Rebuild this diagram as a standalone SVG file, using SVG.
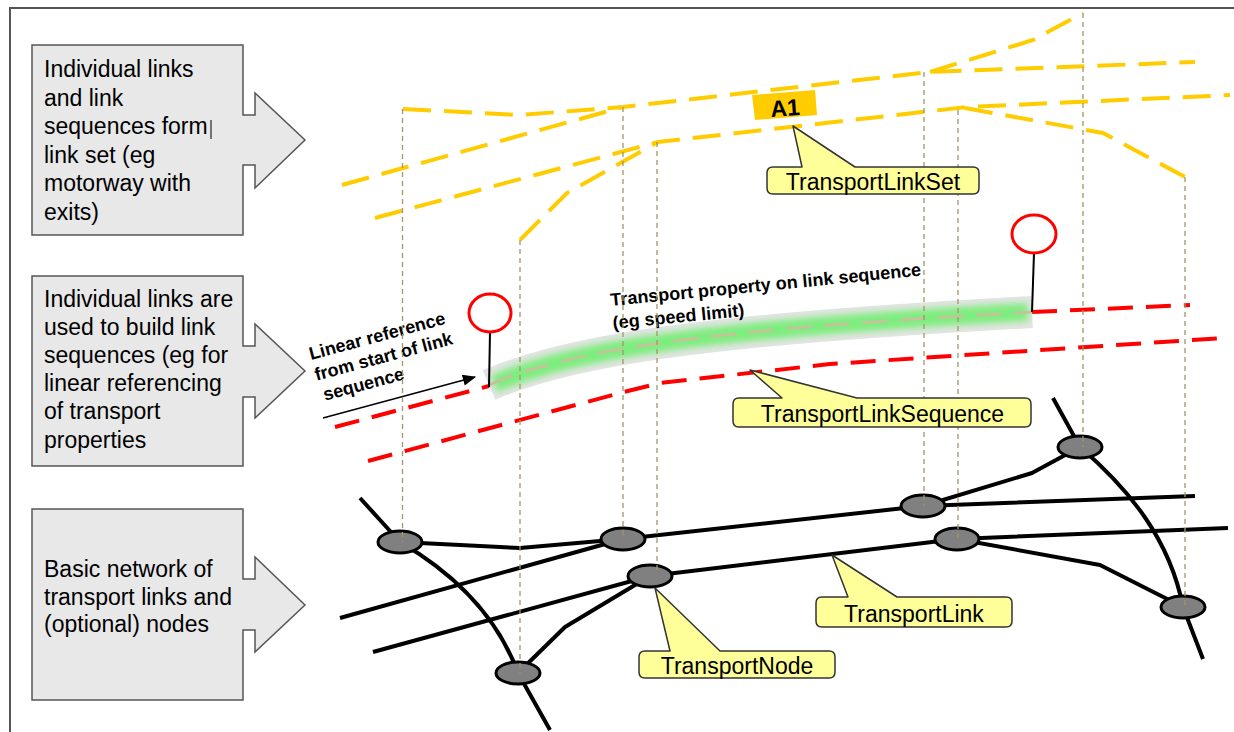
<svg xmlns="http://www.w3.org/2000/svg" width="1234" height="732" viewBox="0 0 1234 732">
<defs>
<style>
.box{fill:#e8e8e8;stroke:#555;stroke-width:1.5}
.bt{font-family:"Liberation Sans",Arial,sans-serif;font-size:23px;fill:#000}
.yl{fill:none;stroke:#FFCC00;stroke-width:4;stroke-dasharray:28 13}
.rl{fill:none;stroke:#FF0000;stroke-width:4;stroke-dasharray:25 13}
.dot{fill:none;stroke:#a39668;stroke-width:1.3;stroke-dasharray:5 4}
.net{fill:none;stroke:#000;stroke-width:4;stroke-linejoin:round}
.node{fill:#808080;stroke:#000;stroke-width:3}
.call{fill:#FFFF99;stroke:#333;stroke-width:1.5;stroke-linejoin:round}
.ct{font-family:"Liberation Sans",Arial,sans-serif;font-size:23px;fill:#000;text-anchor:middle}
.it{font-family:"Liberation Sans",Arial,sans-serif;font-size:18px;font-weight:bold;fill:#000}
.pin{fill:#fff;stroke:#FF0000;stroke-width:3}
</style>
<marker id="ah2" viewBox="0 0 12 10" refX="11" refY="5" markerWidth="14" markerHeight="11" markerUnits="userSpaceOnUse" orient="auto">
<path d="M0,0 L12,5 L0,10 Z" fill="#000"/>
</marker>
<filter id="blur" x="-5%" y="-50%" width="110%" height="200%"><feGaussianBlur stdDeviation="3.5"/></filter>
</defs>
<rect width="1234" height="732" fill="#fff"/>
<path d="M10,732 V8 H1234" fill="none" stroke="#555" stroke-width="2"/>

<g id="box-linkset">
<path class="box" d="M32,45 H243 V115 H255 V93 L305,140 L255,188 V165 H243 V235 H32 Z"/>
<text class="bt" x="44" y="77">Individual links</text>
<text class="bt" x="44" y="105.5">and link</text>
<text class="bt" x="44" y="134">sequences form</text>
<text class="bt" x="44" y="162.5">link set (eg</text>
<text class="bt" x="44" y="191">motorway with</text>
<text class="bt" x="44" y="219.5">exits)</text>
<line x1="211" y1="120" x2="211" y2="139" stroke="#000" stroke-width="1"/>
</g>
<g id="box-linksequence">
<path class="box" d="M32,276 H243 V346 H255 V324 L305,371 L255,418 V397 H243 V466 H32 Z"/>
<text class="bt" x="44" y="306.5">Individual links are</text>
<text class="bt" x="44" y="334.7">used to build link</text>
<text class="bt" x="44" y="362.9">sequences (eg for</text>
<text class="bt" x="44" y="391.1">linear referencing</text>
<text class="bt" x="44" y="419.3">of transport</text>
<text class="bt" x="44" y="447.5">properties</text>
</g>
<g id="box-network">
<path class="box" d="M32,509 H243 V579 H255 V557 L305,605 L255,652 V630 H243 V700 H32 Z"/>
<text class="bt" x="44" y="577">Basic network of</text>
<text class="bt" x="44" y="604.5">transport links and</text>
<text class="bt" x="44" y="632">(optional) nodes</text>
</g>

<g id="linkset-lines">
<path class="yl" d="M403,109 L520,115 L623,107 L780,89 L930,72 L1195,62"/>
<path class="yl" d="M342,185 L623,107"/>
<path class="yl" d="M930,72 L1033,40 L1083,13"/>
<path class="yl" d="M375,218 L658,142 L967,107 L1230,95"/>
<path class="yl" d="M965,108 L1103,133 L1185,177"/>
<path class="yl" d="M520,240 L567,193 L658,142"/>
</g>
<g id="a1-label">
<polygon points="752,95 815,90 817,115 755,120" fill="#FFCC00"/>
<text x="785" y="116" transform="rotate(-4 785 108)" font-family="Liberation Sans, Arial, sans-serif" font-size="23" font-weight="bold" text-anchor="middle">A1</text>
</g>

<g id="linksequence-lines">
<path class="rl" d="M335,427 L489,386"/>
<path class="rl" d="M1032,312 L1190,305"/>
<path class="rl" d="M368,461 L620,393 L660,383 L830,364 L1223,338"/>
</g>
<g id="property-band">
<path d="M489,385 C570,350 700,330 1032,312" fill="none" stroke="#e4e4e4" stroke-width="32"/>
<path d="M494,384 C570,350 700,330 1028,312" fill="none" stroke="#7ded7d" stroke-width="18" filter="url(#blur)"/>
<path d="M489,385 C570,350 700,330 1032,312" fill="none" stroke="#c4c49a" stroke-width="3" stroke-dasharray="25 13"/>
</g>
<g id="pins">
<line x1="490" y1="332" x2="489" y2="387" stroke="#000" stroke-width="2"/>
<ellipse class="pin" cx="490" cy="313" rx="21" ry="19"/>
<line x1="1034" y1="253" x2="1032" y2="312" stroke="#000" stroke-width="2"/>
<ellipse class="pin" cx="1034" cy="234" rx="22" ry="19"/>
</g>
<g id="linear-ref">
<line x1="323" y1="418" x2="475" y2="377" stroke="#000" stroke-width="1.5" marker-end="url(#ah2)"/>
<text class="it" transform="translate(311 360) rotate(-15)"><tspan x="0" y="0">Linear reference</tspan><tspan x="0" y="21.5">from start of link</tspan><tspan x="3" y="43">sequence</tspan></text>
<text class="it" transform="translate(611 306) rotate(-5.6)"><tspan x="0" y="0">Transport property on link sequence</tspan><tspan x="0" y="23">(eg speed limit)</tspan></text>
</g>

<g id="network-links">
<path class="net" d="M360,498 L400,542 C448,570 495,610 518,673 L550,730"/>
<path class="net" d="M400,542 L520,548 L623,539"/>
<path class="net" d="M623,539 L923,506 L1195,496"/>
<path class="net" d="M340,618 L623,539"/>
<path class="net" d="M373,652 L650,576 L957,539 L1228,528"/>
<path class="net" d="M518,673 L565,627 L650,576"/>
<path class="net" d="M923,506 L1032,473 L1080,447"/>
<path class="net" d="M1053,398 L1080,447 C1130,490 1170,540 1183,607 L1203,659"/>
<path class="net" d="M957,539 L1100,565 L1183,607"/>
</g>
<g id="node-1"><ellipse class="node" cx="400" cy="542" rx="22" ry="11"/></g>
<g id="node-2"><ellipse class="node" cx="623" cy="539" rx="22" ry="11"/></g>
<g id="node-3"><ellipse class="node" cx="650" cy="576" rx="22" ry="11"/></g>
<g id="node-4"><ellipse class="node" cx="518" cy="673" rx="22" ry="11"/></g>
<g id="node-5"><ellipse class="node" cx="1080" cy="447" rx="22" ry="11"/></g>
<g id="node-6"><ellipse class="node" cx="923" cy="506" rx="22" ry="11"/></g>
<g id="node-7"><ellipse class="node" cx="957" cy="539" rx="22" ry="11"/></g>
<g id="node-8"><ellipse class="node" cx="1183" cy="607" rx="22" ry="11"/></g>

<g id="projection-lines">
<line class="dot" x1="402.5" y1="109" x2="402.5" y2="542"/>
<line class="dot" x1="520" y1="240" x2="520" y2="673"/>
<line class="dot" x1="623" y1="107" x2="623" y2="539"/>
<line class="dot" x1="657" y1="142" x2="657" y2="572"/>
<line class="dot" x1="924" y1="72" x2="924" y2="506"/>
<line class="dot" x1="958" y1="110" x2="958" y2="539"/>
<line class="dot" x1="1083" y1="13" x2="1083" y2="447"/>
<line class="dot" x1="1185" y1="177" x2="1185" y2="607"/>
</g>

<g id="callout-linkset">
<path class="call" d="M773,167 L802,167 L793,126 L855,167 L973,167 Q979,167 979,173 L979,188 Q979,194 973,194 L773,194 Q767,194 767,188 L767,173 Q767,167 773,167 Z"/>
<text class="ct" x="873" y="189.5">TransportLinkSet</text>
</g>
<g id="callout-linksequence">
<path class="call" d="M739,398 L782,398 L750,370 L857,398 L1025,398 Q1031,398 1031,404 L1031,421 Q1031,427 1025,427 L739,427 Q733,427 733,421 L733,404 Q733,398 739,398 Z"/>
<text class="ct" x="882.5" y="421.5">TransportLinkSequence</text>
</g>
<g id="callout-link">
<path class="call" d="M822,597 L848,597 L832,555 L897,597 L1006,597 Q1012,597 1012,603 L1012,621 Q1012,627 1006,627 L822,627 Q816,627 816,621 L816,603 Q816,597 822,597 Z"/>
<text class="ct" x="914" y="621.5">TransportLink</text>
</g>
<g id="callout-node">
<path class="call" d="M645,651 L670,651 L655,588 L720,651 L829,651 Q835,651 835,657 L835,672 Q835,678 829,678 L645,678 Q639,678 639,672 L639,657 Q639,651 645,651 Z"/>
<text class="ct" x="737" y="674">TransportNode</text>
</g>
</svg>
